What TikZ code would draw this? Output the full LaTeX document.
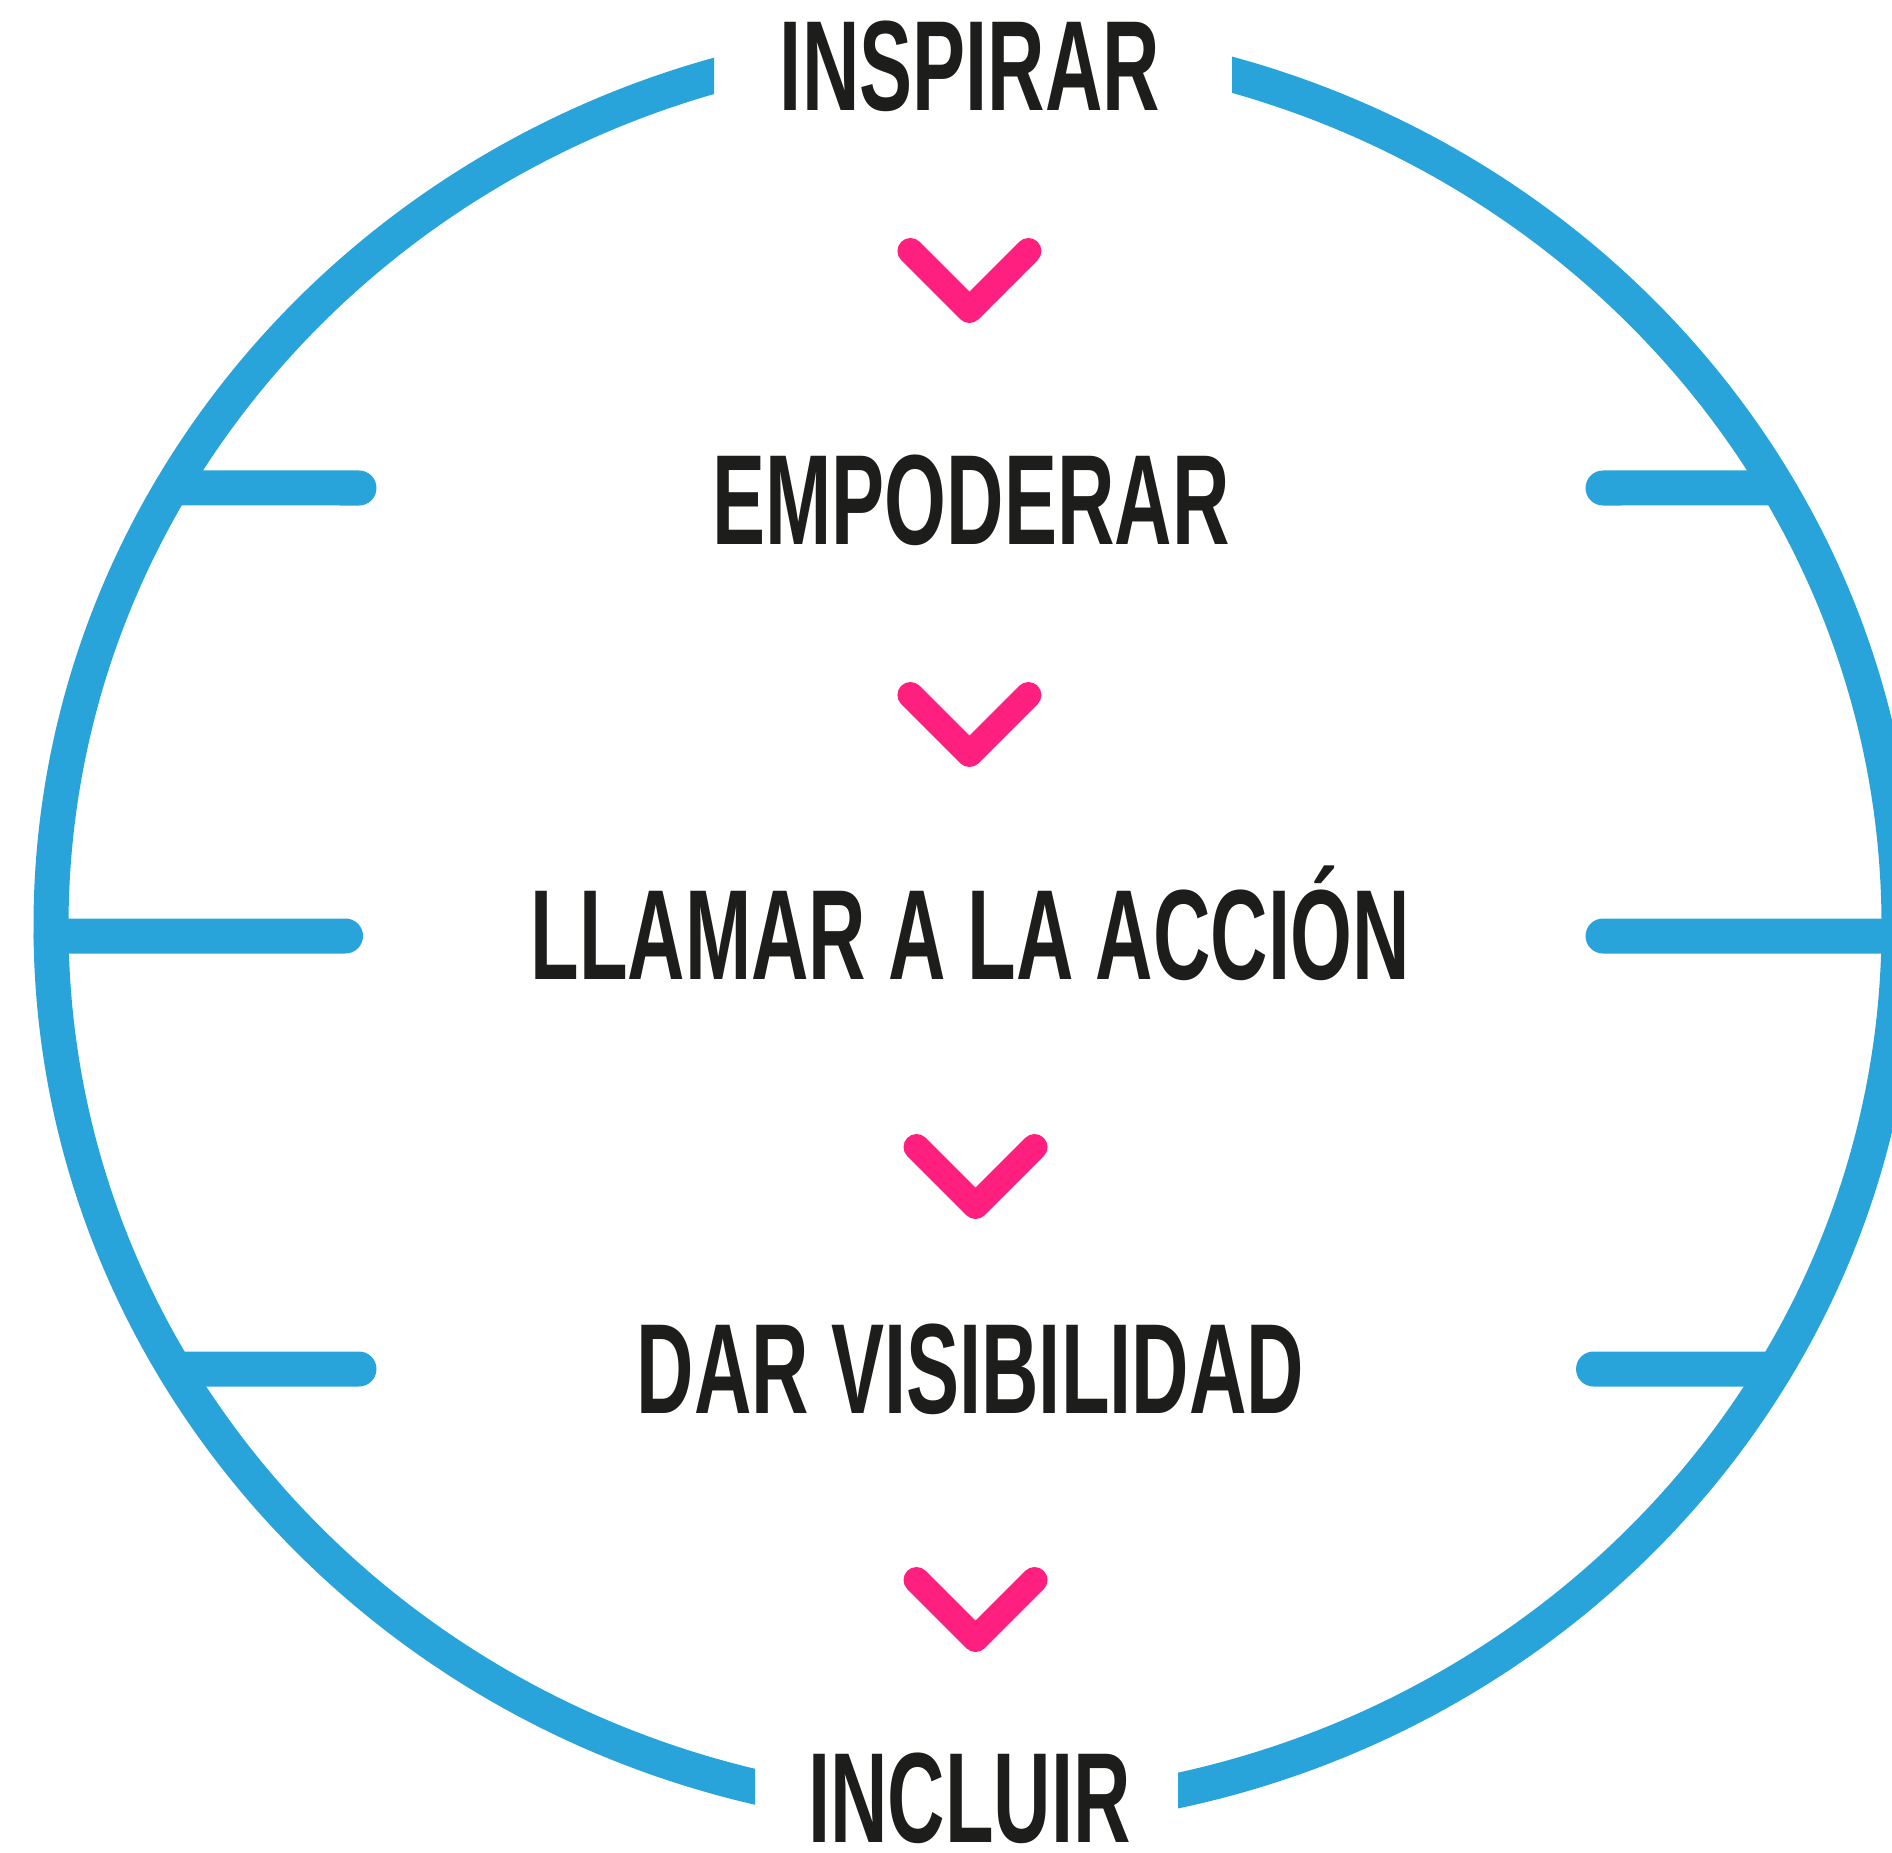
\documentclass[tikz,border=0pt]{standalone}
\usepackage{fontspec}
\newfontfamily\stagefont{Liberation Sans}[FakeStretch=0.62]
\definecolor{ringblue}{HTML}{29A4DA}
\definecolor{chevpink}{HTML}{FF1F7E}
\definecolor{inkblack}{HTML}{1D1D1B}

\begin{document}
\begin{tikzpicture}
  \tikzset{ring/.style={draw=ringblue, line width=0.35cm},
    spoke/.style={ring, line cap=round},
    chev/.style={draw=chevpink, line width=0.26cm, line cap=round, line join=round},
    stage/.style={text=inkblack, font=\stagefont\bfseries\fontsize{36.5}{40}\selectfont, anchor=base, inner sep=0pt}}
  \clip (0,0) rectangle (18.92,18.52);
  \coordinate (c) at (9.75,9.26);
  % anillo, cortado arriba y abajo
  \begin{scope}
    \clip (0,0) -- (7.55,0) -- (7.55,1.0) -- (11.78,1.0) -- (11.78,0) -- (18.92,0)
      -- (18.92,18.52) -- (12.32,18.52) -- (12.32,17.5) -- (7.14,17.5) -- (7.14,18.52)
      -- (0,18.52) -- cycle;
    \draw[ring] (c) ellipse [x radius=9.24, y radius=8.86];
  \end{scope}
  % rayos
  \draw[spoke] (c) ++(150.37:9.24 and 8.86) -- (3.59,13.64);
  \draw[spoke] (c) ++(180.65:9.24 and 8.86) -- (3.455,9.16);
  \draw[spoke] (c) ++(210:9.24 and 8.86) -- (3.59,4.83);
  \draw[spoke] (c) ++(29.63:9.24 and 8.86) -- (16.03,13.64);
  \draw[spoke] (c) ++(-0.65:9.24 and 8.86) -- (16.03,9.16);
  \draw[spoke] (c) ++(-30:9.24 and 8.86) -- (15.935,4.83);
  % etapas
  \node[stage] (inspirar) at (9.70,17.41) {INSPIRAR};
  \node[stage] (empoderar) at (9.71,13.08) {EMPODERAR};
  \node[stage] (llamar) at (9.70,8.73) {LLAMAR A LA ACCIÓN};
  \node[stage] (visibilidad) at (9.705,4.39) {DAR VISIBILIDAD};
  \node[stage] (incluir) at (9.695,0.1) {INCLUIR};
  % flechas
  \draw[chev] (9.694,15.42) ++(-0.59,0.59) -- ++(0.59,-0.59) -- ++(0.59,0.59);
  \draw[chev] (9.694,10.98) ++(-0.59,0.59) -- ++(0.59,-0.59) -- ++(0.59,0.59);
  \draw[chev] (9.755,6.46) ++(-0.59,0.59) -- ++(0.59,-0.59) -- ++(0.59,0.59);
  \draw[chev] (9.755,2.13) ++(-0.59,0.59) -- ++(0.59,-0.59) -- ++(0.59,0.59);
\end{tikzpicture}
\end{document}
